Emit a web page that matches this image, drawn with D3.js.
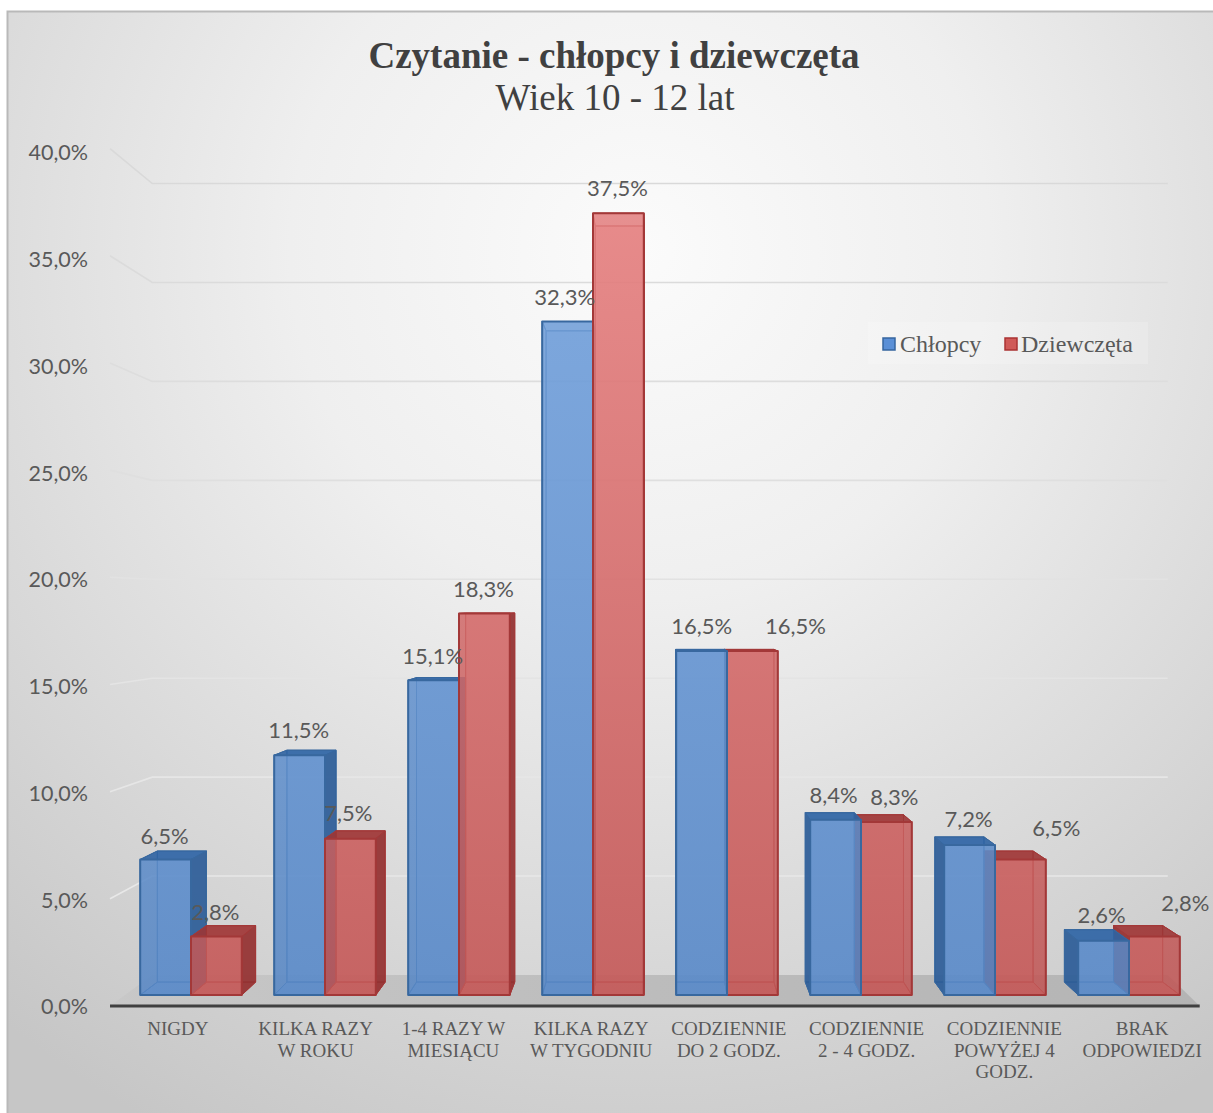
<!DOCTYPE html>
<html><head><meta charset="utf-8">
<script src="https://d3js.org/d3.v7.min.js"></script>
<style>html,body{margin:0;padding:0;background:#fff}svg{display:block}</style>
</head><body>
<svg id="chart" width="1213" height="1113"></svg>
<script>
const categories = [["NIGDY"],["KILKA RAZY","W ROKU"],["1-4 RAZY W","MIESIĄCU"],["KILKA RAZY","W TYGODNIU"],["CODZIENNIE","DO 2 GODZ."],["CODZIENNIE","2 - 4 GODZ."],["CODZIENNIE","POWYŻEJ 4","GODZ."],["BRAK","ODPOWIEDZI"]];
const chlopcy = [6.5,11.5,15.1,32.3,16.5,8.4,7.2,2.6];
const dziewczeta = [2.8,7.5,18.3,37.5,16.5,8.3,6.5,2.8];
const seriesNames = ["Chłopcy","Dziewczęta"];
const yTicks = [0,5,10,15,20,25,30,35,40];
// hand-placed data label nudges of the original
const labelDxBlue = [-1,-1,-1,-3,0,-2,-1,-2];
const labelDxRed = [-1,-2,-1,-1,43,8,36,31];
const labelDyBlue = [3,1,2,1,1,1,0,0];
const labelDyRed = [1,0,2,1,1,1,-5,-8];

const svg = d3.select("#chart");
const W = 1213, H = 1113;
const defs = svg.append("defs");
const bg = defs.append("radialGradient").attr("id","bg").attr("gradientUnits","userSpaceOnUse")
  .attr("cx",640).attr("cy",250).attr("r",1000);
bg.append("stop").attr("offset",0).attr("stop-color","#fbfbfb");
bg.append("stop").attr("offset",.35).attr("stop-color","#efefef");
bg.append("stop").attr("offset",.7).attr("stop-color","#d9d9d9");
bg.append("stop").attr("offset",1).attr("stop-color","#c6c6c6");
const fl = defs.append("linearGradient").attr("id","floor").attr("x1",0).attr("x2",1).attr("y1",0).attr("y2",0);
fl.append("stop").attr("offset",0).attr("stop-color","#c8c8c8");
fl.append("stop").attr("offset",.5).attr("stop-color","#bcbcbc");
fl.append("stop").attr("offset",1).attr("stop-color","#b4b4b4");
const frontGrads = [["fBlue","#7aa7e0","#5b8bc9"],["fRed","#ea8787","#c45a59"]];
frontGrads.forEach(([id,a,b])=>{
  const g = defs.append("linearGradient").attr("id",id).attr("gradientUnits","userSpaceOnUse")
    .attr("x1",0).attr("x2",0).attr("y1",200).attr("y2",995);
  g.append("stop").attr("offset",0).attr("stop-color",a);
  g.append("stop").attr("offset",1).attr("stop-color",b);
});

svg.append("rect").attr("x",7.5).attr("y",11.5).attr("width",W).attr("height",H)
  .attr("fill","url(#bg)").attr("stroke","#b9b9b9").attr("stroke-width",2);

// scales on the plane of the bar fronts
const step = 134, firstCenter = 191;
const xCenter = d3.scaleLinear().domain([0,7]).range([firstCenter, firstCenter+7*step]);
const barW = 50.8;
const y = d3.scaleLinear().domain([0,40]).range([995,161]);
const yLabel = d3.scaleLinear().domain([0,40]).range([1006,152]);

// perspective
const vx = 660, vy = 603;
const kBarBack = 0.967, kFloorFront = 1.028, kFloorBack = 0.949;
const P = (px,py,k) => [vx+(px-vx)*k, vy+(py-vy)*k];
const poly = pts => pts.map(p=>p.join(",")).join(" ");

const planeL = 125, planeR = 1195, planeRFront = 1185;

// floor
svg.append("polygon").attr("points",poly([P(planeL,y(0),kFloorFront),P(planeRFront,y(0),kFloorFront),P(planeR,y(0),kFloorBack),P(planeL,y(0),kFloorBack)]))
  .attr("fill","url(#floor)");

// gridlines (back wall + left wall)
const gridColor = d3.scaleLinear().domain([0,40]).range(["#eaeaea","#d9d9d9"]);
const grid = svg.append("g").attr("fill","none").attr("stroke-width",1.6);
yTicks.filter(t=>t>0).forEach(t=>{
  grid.append("polyline").attr("stroke",gridColor(t))
    .attr("points",poly([P(planeL,y(t),kFloorFront),P(planeL,y(t),kFloorBack),P(planeR,y(t),kFloorBack)]));
});

// bars
const seriesStyle = [
  {front:"url(#fBlue)",back:"#4c80c4",top:"#2f64a3",side:"#2c5a94",stroke:"#38689f"},
  {front:"url(#fRed)",back:"#c65050",top:"#9c3636",side:"#8f2f2f",stroke:"#a33838"}
];
const bars = [];
[chlopcy,dziewczeta].forEach((vals,s)=>vals.forEach((v,i)=>{
  const x1 = xCenter(i)+(s===0?-barW:0), x2 = x1+barW;
  bars.push({i,s,v,x1,x2});
}));
bars.sort((a,b)=>Math.abs((b.x1+b.x2)/2-vx)-Math.abs((a.x1+a.x2)/2-vx));
const barG = svg.append("g");
bars.forEach(b=>{
  const st = seriesStyle[b.s], yT = y(b.v), yB = y(0), k = kBarBack;
  const FTL=[b.x1,yT],FTR=[b.x2,yT],FBL=[b.x1,yB],FBR=[b.x2,yB];
  const BTL=P(b.x1,yT,k),BTR=P(b.x2,yT,k),BBL=P(b.x1,yB,k),BBR=P(b.x2,yB,k);
  const g = barG.append("g").attr("stroke",st.stroke).attr("stroke-linejoin","round");
  const face=(pts,fill,op,sw)=>g.append("polygon").attr("points",poly(pts)).attr("fill",fill).attr("fill-opacity",op).attr("stroke-width",sw);
  face([BTL,BTR,BBR,BBL],st.back,.55,1);
  face([BBL,BBR,FBR,FBL],st.back,.6,1);
  face([BTL,BBL,FBL,FTL],st.side,b.x1>vx?.85:.35,1);
  face([BTR,BBR,FBR,FTR],st.side,b.x2<vx?.85:.35,1);
  face([BTL,BTR,FTR,FTL],st.top,yT>vy?.85:.35,1);
  face([FTL,FTR,FBR,FBL],st.front,.8,2);
});

// baseline
svg.append("line").attr("x1",P(planeL,y(0),kFloorFront)[0]).attr("x2",P(planeRFront,y(0),kFloorFront)[0])
  .attr("y1",1006).attr("y2",1006).attr("stroke","#404040").attr("stroke-width",3);

// y axis
const fmt = v => d3.format(".1f")(v).replace(".",",")+"%";
const yAxis = svg.append("g").attr("transform","translate(88,1)")
  .call(d3.axisLeft(yLabel).tickValues(yTicks).tickFormat(fmt).tickSize(0).tickPadding(0));
yAxis.select(".domain").remove();
yAxis.selectAll("text").attr("font-family","Lato").attr("font-size",21.5).attr("fill","#595959");

// category labels
const catG = svg.append("g").attr("font-family","Liberation Serif").attr("font-size",19).attr("fill","#595959").attr("text-anchor","middle");
categories.forEach((lines,i)=>{
  const cx = P(xCenter(i),y(0),kFloorFront)[0];
  lines.forEach((t,j)=>catG.append("text").attr("x",cx).attr("y",1035+j*21.5).text(t));
});

// data labels
const lab = svg.append("g").attr("font-family","Lato").attr("font-size",22).attr("fill","#595959").attr("text-anchor","middle");
[[chlopcy,labelDxBlue,labelDyBlue,-barW/2],[dziewczeta,labelDxRed,labelDyRed,barW/2]].forEach(([vals,dx,dy,off])=>{
  vals.forEach((v,i)=>{
    lab.append("text").attr("x",xCenter(i)+off+dx[i]).attr("y",y(v)-18+dy[i]).text(fmt(v));
  });
});

// title
svg.append("text").attr("x",614).attr("y",68).attr("text-anchor","middle").attr("font-family","Liberation Serif")
  .attr("font-weight","bold").attr("font-size",37).attr("fill","#404040").text("Czytanie - chłopcy i dziewczęta");
svg.append("text").attr("x",615).attr("y",110).attr("text-anchor","middle").attr("font-family","Liberation Serif")
  .attr("font-size",37).attr("fill","#404040").text("Wiek 10 - 12 lat");

// legend
svg.append("rect").attr("x",868).attr("y",322).attr("width",280).attr("height",42).attr("fill","#fff").attr("fill-opacity",.18);
const legendX = [883,1005], legendTx = [900,1021];
seriesNames.forEach((n,s)=>{
  svg.append("rect").attr("x",legendX[s]).attr("y",338).attr("width",12).attr("height",12)
    .attr("fill",s?"#d05a58":"#5a8fd6").attr("stroke",s?"#a33":"#36659f").attr("stroke-width",1.5);
  svg.append("text").attr("x",legendTx[s]).attr("y",352).attr("font-family","Liberation Serif").attr("font-size",24).attr("fill","#595959").text(n);
});
</script>
</body></html>
